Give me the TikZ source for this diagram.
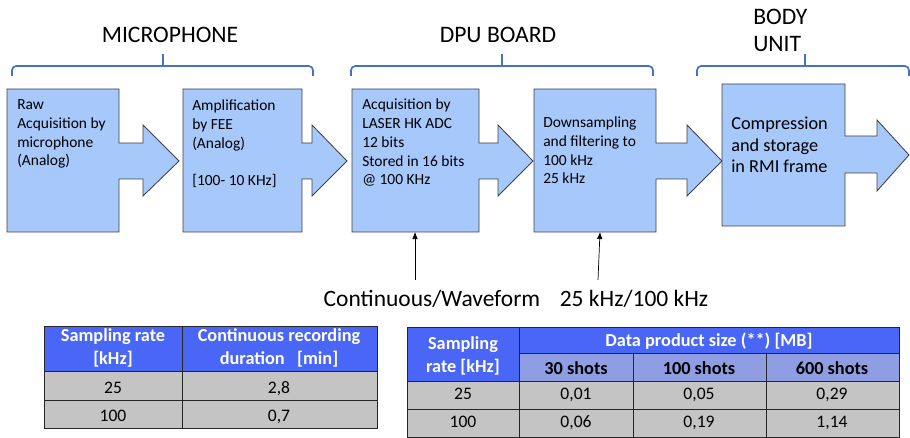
\documentclass[tikz,border=0pt]{standalone}
\usepackage{fontspec}
\setmainfont{Carlito}
\usetikzlibrary{arrows.meta}

\definecolor{boxblue}{HTML}{A6C8FA}
\definecolor{bracecol}{HTML}{4472C4}
\definecolor{hdrblue}{HTML}{4A66F7}
\definecolor{subblue}{HTML}{8F9EE3}
\definecolor{rowgray}{HTML}{C4C4C4}

\tikzset{
  blk/.style={fill=boxblue,draw=black!75,line width=0.6pt},
  brc/.style={draw=bracecol,line width=1.2pt,rounded corners=3pt},
  blktext/.style={anchor=base west,align=left,inner sep=0pt,font=\fontsize{11}{13.5}\selectfont},
  bigtext/.style={anchor=base west,align=left,inner sep=0pt,font=\fontsize{13}{15.6}\selectfont},
  ttl/.style={anchor=base,inner sep=0pt,font=\fontsize{16.8}{19}\selectfont},
  lbl/.style={anchor=base,inner sep=0pt,font=\fontsize{16.7}{19}\selectfont},
  feed/.style={-{Latex[length=5pt,width=4pt]},line width=0.5pt},
  cell/.style={draw=black!85,line width=0.7pt},
  hdr/.style={anchor=base,align=center,inner sep=0pt,text=white,font=\fontsize{13}{16.8}\selectfont\bfseries},
  subhdr/.style={anchor=base,inner sep=0pt,font=\fontsize{13}{15}\selectfont\bfseries},
  val/.style={anchor=base,inner sep=0pt,font=\fontsize{12.5}{15}\selectfont}
}

\begin{document}
\begin{tikzpicture}[x=0.025cm,y=-0.025cm]
\useasboundingbox (0,0) rectangle (910,438);

% group titles and braces (multi-line nodes sit on their last line)
\node[ttl] (mic) at (170,43) {MICROPHONE};
\node[ttl] (dpu) at (498,43) {DPU BOARD};
\node[ttl,anchor=base west,align=left,font=\fontsize{16.8}{19.2}\selectfont] (body) at (753,52) {BODY\\UNIT};

\draw[brc] (12,76) |- (313,66) -- (313,76);
\draw[brc] (163,66) -- (163,54);
\draw[brc] (351,76) |- (653,66) -- (653,76);
\draw[brc] (502,66) -- (502,54);
\draw[brc] (697,76) |- (909,66) -- (909,76);
\draw[brc] (805,66) -- (805,54);

% processing blocks
\filldraw[blk] (7,89) -- (119,89) -- (119,143) -- (143,143) -- (143,125) -- (179,161) -- (143,196) -- (143,179) -- (119,179) -- (119,232) -- (7,232) -- cycle;
\filldraw[blk] (183,89) -- (302,89) -- (302,143) -- (312,143) -- (312,125) -- (347,161) -- (312,196) -- (312,179) -- (302,179) -- (302,232) -- (183,232) -- cycle;
\filldraw[blk] (352,89) -- (479,89) -- (479,143) -- (498,143) -- (498,125) -- (533,161) -- (498,196) -- (498,179) -- (479,179) -- (479,232) -- (352,232) -- cycle;
\filldraw[blk] (534,89) -- (656,89) -- (656,143) -- (687,143) -- (687,125) -- (722,161) -- (687,196) -- (687,179) -- (656,179) -- (656,232) -- (534,232) -- cycle;
\filldraw[blk] (722,84) -- (845,84) -- (845,136) -- (877,136) -- (877,120) -- (909,155) -- (877,191) -- (877,173) -- (845,173) -- (845,226) -- (722,226) -- cycle;

\node[blktext] (raw) at (17,166) {Raw\\Acquisition by\\microphone\\(Analog)};
\node[blktext] (fee) at (192,186) {Amplification\\by FEE\\(Analog)\\[13.5pt]{[100- 10 KHz]}};
\node[blktext] (adc) at (362,185) {Acquisition by\\LASER HK ADC\\12 bits\\Stored in 16 bits\\@ 100 KHz};
\node[blktext] (down) at (543,184) {Downsampling\\and filtering to\\100 kHz\\25 kHz};
\node[bigtext] (comp) at (731,173) {Compression\\and storage\\in RMI frame};

% inputs from below
\coordinate (adcin) at (415,232);
\coordinate (downin) at (600,232);
\coordinate (cwtop) at (415,280);
\coordinate (ratetop) at (598,280);
\node[lbl] (cw) at (432,307) {Continuous/Waveform};
\node[lbl] (rate) at (634,307) {25 kHz/100 kHz};
\draw[feed] (cwtop) -- (adcin);
\draw[feed] (ratetop) -- (downin);

% table 1
\fill[hdrblue] (44,326) rectangle (377,371);
\fill[rowgray] (44,371) rectangle (377,428);
\draw[cell] (44,326) rectangle (377,428);
\draw[cell] (44,371) -- (377,371) (44,400) -- (377,400) (182,326) -- (182,428);
\node[hdr] (ta) at (113,365) {Sampling rate\\{[kHz]}};
\node[hdr] (tb) at (279,365) {Continuous recording\\duration\ \ \ [min]};
\node[val] (ta1) at (113,394) {25};
\node[val] (tb1) at (279,394) {2,8};
\node[val] (ta2) at (113,422) {100};
\node[val] (tb2) at (279,422) {0,7};

% table 2
\fill[hdrblue] (407,327) rectangle (899,353);
\fill[hdrblue] (407,353) rectangle (519,381);
\fill[subblue] (519,353) rectangle (899,381);
\fill[rowgray] (407,381) rectangle (899,437);
\draw[cell] (407,327) rectangle (899,437);
\draw[cell] (519,327) -- (519,437) (519,353) -- (899,353) (407,381) -- (899,381) (407,409) -- (899,409);
\draw[cell] (633,353) -- (633,437) (766,353) -- (766,437);
\node[hdr] (ua) at (463,373) {Sampling\\rate [kHz]};
\node[hdr] (ub) at (709,347) {Data product size (**) [MB]};
\node[subhdr] (u30) at (576,375) {30 shots};
\node[subhdr] (u100) at (699,375) {100 shots};
\node[subhdr] (u600) at (832,375) {600 shots};
\node[val] (ua1) at (463,400) {25};
\node[val] (ub1) at (576,400) {0,01};
\node[val] (uc1) at (699,400) {0,05};
\node[val] (ud1) at (832,400) {0,29};
\node[val] (ua2) at (463,428) {100};
\node[val] (ub2) at (576,428) {0,06};
\node[val] (uc2) at (699,428) {0,19};
\node[val] (ud2) at (832,428) {1,14};

\end{tikzpicture}
\end{document}
